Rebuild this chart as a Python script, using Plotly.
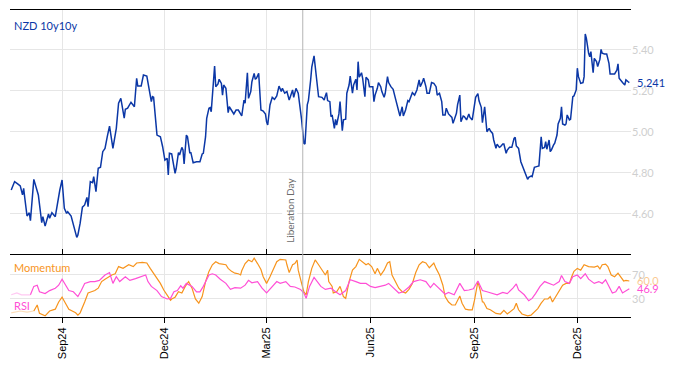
import plotly.graph_objects as go

# ---------------- data ----------------
nzd_dates = [
    "2024-07-18","2024-07-21","2024-07-24","2024-07-26","2024-07-28","2024-07-29","2024-07-30",
    "2024-08-01","2024-08-03","2024-08-04","2024-08-07","2024-08-11","2024-08-14","2024-08-15",
    "2024-08-17","2024-08-20","2024-08-21","2024-08-23","2024-08-26","2024-08-28","2024-08-30",
    "2024-09-01","2024-09-03","2024-09-05","2024-09-06","2024-09-09","2024-09-11","2024-09-14",
    "2024-09-15","2024-09-17","2024-09-19","2024-09-21","2024-09-23","2024-09-24","2024-09-26",
    "2024-09-28","2024-09-29","2024-10-01","2024-10-03","2024-10-05","2024-10-07","2024-10-09",
    "2024-10-11","2024-10-13","2024-10-16","2024-10-18","2024-10-19","2024-10-21","2024-10-23",
    "2024-10-24","2024-10-26","2024-10-27","2024-10-29","2024-11-01","2024-11-04","2024-11-06",
    "2024-11-07","2024-11-10","2024-11-12","2024-11-15","2024-11-16","2024-11-19","2024-11-20",
    "2024-11-21","2024-11-24","2024-11-27","2024-11-29","2024-12-01","2024-12-03","2024-12-04",
    "2024-12-05","2024-12-07","2024-12-10","2024-12-11","2024-12-13","2024-12-14","2024-12-16",
    "2024-12-17","2024-12-18","2024-12-20","2024-12-21","2024-12-23","2024-12-24","2024-12-26",
    "2024-12-29","2025-01-01","2025-01-03","2025-01-04","2025-01-06","2025-01-07","2025-01-09",
    "2025-01-10","2025-01-11","2025-01-12","2025-01-14","2025-01-15","2025-01-17","2025-01-18",
    "2025-01-20","2025-01-21","2025-01-22","2025-01-24","2025-01-25","2025-01-26","2025-01-27",
    "2025-01-29","2025-01-31","2025-02-02","2025-02-04","2025-02-07","2025-02-09","2025-02-10",
    "2025-02-12","2025-02-13","2025-02-15","2025-02-16","2025-02-18","2025-02-19","2025-02-20",
    "2025-02-22","2025-02-23","2025-02-24","2025-02-26","2025-02-28","2025-03-01","2025-03-02",
    "2025-03-04","2025-03-06","2025-03-08","2025-03-10","2025-03-12","2025-03-14","2025-03-15",
    "2025-03-17","2025-03-19","2025-03-21","2025-03-22","2025-03-24","2025-03-25","2025-03-27",
    "2025-03-29","2025-03-31","2025-04-01","2025-04-03","2025-04-04","2025-04-06","2025-04-07",
    "2025-04-09","2025-04-10","2025-04-12","2025-04-13","2025-04-15","2025-04-16","2025-04-19",
    "2025-04-21","2025-04-22","2025-04-23","2025-04-24","2025-04-26","2025-04-27","2025-04-28",
    "2025-04-30","2025-05-01","2025-05-02","2025-05-04","2025-05-05","2025-05-07","2025-05-08",
    "2025-05-10","2025-05-11","2025-05-13","2025-05-14","2025-05-16","2025-05-17","2025-05-19",
    "2025-05-20","2025-05-21","2025-05-22","2025-05-24","2025-05-25","2025-05-27","2025-05-28",
    "2025-05-30","2025-05-31","2025-06-03","2025-06-04","2025-06-05","2025-06-07","2025-06-08",
    "2025-06-10","2025-06-11","2025-06-13","2025-06-14","2025-06-16","2025-06-17","2025-06-19",
    "2025-06-21","2025-06-23","2025-06-25","2025-06-27","2025-06-29","2025-06-30","2025-07-02",
    "2025-07-04","2025-07-05","2025-07-06","2025-07-08","2025-07-10","2025-07-12","2025-07-14",
    "2025-07-15","2025-07-17","2025-07-18","2025-07-20","2025-07-21","2025-07-23","2025-07-25",
    "2025-07-27","2025-07-29","2025-07-30","2025-08-01","2025-08-03","2025-08-04","2025-08-06",
    "2025-08-07","2025-08-09","2025-08-10","2025-08-12","2025-08-13","2025-08-15","2025-08-16",
    "2025-08-17","2025-08-19","2025-08-20","2025-08-22","2025-08-23","2025-08-25","2025-08-27",
    "2025-08-28","2025-08-30","2025-09-01","2025-09-02","2025-09-04","2025-09-05","2025-09-07",
    "2025-09-08","2025-09-10","2025-09-12","2025-09-14","2025-09-15","2025-09-17","2025-09-18",
    "2025-09-20","2025-09-21","2025-09-23","2025-09-24","2025-09-26","2025-09-27","2025-09-29",
    "2025-09-30","2025-10-02","2025-10-04","2025-10-06","2025-10-07","2025-10-08","2025-10-10",
    "2025-10-12","2025-10-13","2025-10-15","2025-10-16","2025-10-18","2025-10-19","2025-10-21",
    "2025-10-22","2025-10-24","2025-10-26","2025-10-28","2025-10-30","2025-10-31","2025-11-02",
    "2025-11-03","2025-11-04","2025-11-06","2025-11-07","2025-11-08","2025-11-10","2025-11-11",
    "2025-11-13","2025-11-14","2025-11-16","2025-11-17","2025-11-18","2025-11-20","2025-11-21",
    "2025-11-22","2025-11-24","2025-11-25","2025-11-27","2025-11-28","2025-11-30","2025-12-01",
    "2025-12-02","2025-12-04","2025-12-06","2025-12-07","2025-12-08","2025-12-09","2025-12-11",
    "2025-12-12","2025-12-13","2025-12-15","2025-12-16","2025-12-18","2025-12-19","2025-12-21",
    "2025-12-22","2025-12-23","2025-12-25","2025-12-27","2025-12-29","2025-12-30","2026-01-01",
    "2026-01-03","2026-01-05","2026-01-06","2026-01-07","2026-01-09","2026-01-10","2026-01-12",
    "2026-01-13","2026-01-15","2026-01-16",
]
nzd_values = [
    4.717,4.758,4.746,4.737,4.693,4.725,4.678,
    4.590,4.606,4.567,4.769,4.693,4.558,4.587,
    4.541,4.600,4.579,4.606,4.587,4.660,4.717,
    4.766,4.628,4.603,4.611,4.590,4.546,4.486,
    4.498,4.555,4.633,4.644,4.681,4.636,4.758,
    4.753,4.782,4.709,4.823,4.828,4.904,4.920,
    4.977,5.029,4.920,5.001,5.018,5.140,5.164,
    5.132,5.067,5.111,5.116,5.145,5.123,5.262,
    5.224,5.224,5.278,5.273,5.245,5.148,5.172,
    5.169,4.985,4.977,4.928,4.863,4.872,4.790,
    4.896,4.893,4.798,4.823,4.899,4.888,4.925,
    4.912,4.844,4.985,4.977,4.899,4.899,4.850,
    4.855,4.855,4.893,4.896,4.977,5.067,5.116,
    5.119,5.099,5.172,5.322,5.221,5.234,5.257,
    5.237,5.180,5.229,5.213,5.156,5.094,5.123,
    5.107,5.088,5.107,5.107,5.078,5.156,5.140,
    5.289,5.164,5.197,5.245,5.286,5.257,5.262,
    5.286,5.189,5.107,5.102,5.088,5.050,5.034,
    5.132,5.169,5.159,5.176,5.224,5.197,5.213,
    5.189,5.197,5.156,5.172,5.205,5.169,5.213,
    5.189,5.116,5.059,4.945,4.941,5.132,5.153,
    5.254,5.316,5.371,5.319,5.237,5.172,5.169,
    5.156,5.176,5.192,5.153,5.148,5.075,5.083,
    5.018,5.062,5.034,5.088,5.148,5.006,5.059,
    5.062,5.189,5.229,5.273,5.189,5.229,5.257,
    5.205,5.343,5.267,5.289,5.262,5.172,5.267,
    5.254,5.221,5.221,5.148,5.180,5.213,5.241,
    5.221,5.197,5.169,5.189,5.270,5.241,5.221,
    5.208,5.164,5.123,5.078,5.123,5.078,5.107,
    5.153,5.148,5.164,5.192,5.180,5.205,5.254,
    5.221,5.245,5.262,5.221,5.189,5.189,5.241,
    5.237,5.221,5.180,5.189,5.148,5.083,5.083,
    5.116,5.088,5.083,5.071,5.042,5.075,5.091,
    5.132,5.180,5.050,5.078,5.075,5.059,5.088,
    5.071,5.059,5.120,5.169,5.187,5.152,5.120,
    5.045,5.123,5.001,5.018,5.006,4.993,4.961,
    4.920,4.941,4.925,4.928,4.941,4.941,4.896,
    4.912,4.925,4.925,4.969,4.974,4.932,4.920,
    4.855,4.839,4.806,4.790,4.769,4.779,4.785,
    4.782,4.828,4.831,4.834,4.977,4.920,4.925,
    4.953,4.916,4.961,4.904,4.912,4.937,4.945,
    4.985,5.039,5.067,5.123,5.039,5.034,5.039,
    5.083,5.059,5.062,5.172,5.176,5.205,5.311,
    5.270,5.237,5.241,5.270,5.478,5.457,5.384,
    5.367,5.392,5.289,5.359,5.343,5.319,5.355,
    5.403,5.384,5.380,5.380,5.335,5.283,5.283,
    5.283,5.302,5.332,5.262,5.245,5.241,5.229,
    5.254,5.245,5.241,
]

# warm-up (faded) part of the indicators
mom_warm_dates = ["2024-07-18","2024-07-26","2024-08-01","2024-08-07"]
mom_warm_values = [7, 10, 8, 10]
rsi_warm_dates = ["2024-07-18","2024-07-23","2024-07-27","2024-08-04"]
rsi_warm_values = [37, 40, 37, 37]

mom_dates = [
    "2024-08-07","2024-08-10","2024-08-12","2024-08-17","2024-08-21","2024-08-26","2024-08-29",
    "2024-09-01","2024-09-04","2024-09-07","2024-09-10","2024-09-13","2024-09-15","2024-09-17",
    "2024-09-21","2024-09-24","2024-09-27","2024-09-30","2024-10-03","2024-10-06","2024-10-09",
    "2024-10-12","2024-10-15","2024-10-18","2024-10-21","2024-10-25","2024-10-30","2024-11-03",
    "2024-11-06","2024-11-11","2024-11-15","2024-11-18","2024-11-21","2024-11-24","2024-11-27",
    "2024-11-30","2024-12-03","2024-12-06","2024-12-07","2024-12-10","2024-12-13","2024-12-16",
    "2024-12-19","2024-12-22","2024-12-25","2024-12-28","2024-12-31","2025-01-03","2025-01-06",
    "2025-01-09","2025-01-12","2025-01-15","2025-01-18","2025-01-21","2025-01-24","2025-01-26",
    "2025-01-29","2025-02-01","2025-02-04","2025-02-06","2025-02-07","2025-02-10","2025-02-13",
    "2025-02-16","2025-02-18","2025-02-21","2025-02-24","2025-02-26","2025-03-01","2025-03-04",
    "2025-03-07","2025-03-10","2025-03-13","2025-03-18","2025-03-19","2025-03-21","2025-03-24",
    "2025-03-26","2025-03-28","2025-03-29","2025-04-01","2025-04-03","2025-04-05","2025-04-07",
    "2025-04-10","2025-04-13","2025-04-16","2025-04-19","2025-04-22","2025-04-24","2025-04-25",
    "2025-04-28","2025-04-29","2025-05-02","2025-05-05","2025-05-07","2025-05-08","2025-05-10",
    "2025-05-13","2025-05-16","2025-05-19","2025-05-22","2025-05-25","2025-05-28","2025-05-30",
    "2025-06-02","2025-06-05","2025-06-07","2025-06-10","2025-06-13","2025-06-16","2025-06-18",
    "2025-06-20","2025-06-23","2025-06-26","2025-06-29","2025-07-02","2025-07-05","2025-07-08",
    "2025-07-11","2025-07-14","2025-07-17","2025-07-20","2025-07-23","2025-07-26","2025-07-27",
    "2025-07-29","2025-08-01","2025-08-04","2025-08-06","2025-08-09","2025-08-12","2025-08-15",
    "2025-08-17","2025-08-19","2025-08-21","2025-08-24","2025-08-27","2025-08-30","2025-09-01",
    "2025-09-04","2025-09-06","2025-09-08","2025-09-09","2025-09-12","2025-09-15","2025-09-20",
    "2025-09-24","2025-09-27","2025-09-30","2025-10-03","2025-10-06","2025-10-08","2025-10-10",
    "2025-10-13","2025-10-18","2025-10-21","2025-10-24","2025-10-27","2025-10-30","2025-11-02",
    "2025-11-05","2025-11-07","2025-11-09","2025-11-12","2025-11-15","2025-11-18","2025-11-21",
    "2025-11-24","2025-11-26","2025-11-28","2025-12-01","2025-12-04","2025-12-07","2025-12-11",
    "2025-12-16","2025-12-19","2025-12-21","2025-12-23","2025-12-26","2025-12-28","2025-12-31",
    "2026-01-03","2026-01-06","2026-01-09","2026-01-11","2026-01-13","2026-01-16",
]
mom_values = [
    10,20,6,2,10,13,25,
    33,23,13,10,7,3,7,
    25,40,42,44,48,59,63,
    67,70,72,84,81,87,84,
    90,91,90,81,73,64,56,
    45,37,28,30,33,42,40,
    51,59,48,30,23,34,59,
    76,87,92,89,88,87,81,
    76,73,72,70,77,89,95,
    92,98,89,79,67,56,67,
    81,92,96,95,87,74,87,
    89,95,78,56,42,37,59,
    81,95,87,78,70,78,59,
    51,40,42,51,40,34,31,
    59,78,84,96,92,87,89,
    84,72,81,70,78,90,92,
    70,59,48,42,40,46,56,
    74,87,92,90,82,89,90,
    81,70,53,34,25,20,20,
    28,35,23,13,12,12,28,
    59,45,25,25,14,12,6,
    5,11,5,9,14,23,12,
    5,2,3,9,14,23,30,
    30,34,25,34,45,53,56,
    56,67,76,81,78,87,84,
    83,85,80,87,88,84,70,
    67,73,64,60,61,60.0,
]

rsi_dates = [
    "2024-08-04","2024-08-07","2024-08-10","2024-08-12","2024-08-17","2024-08-21","2024-08-26",
    "2024-08-29","2024-09-01","2024-09-04","2024-09-07","2024-09-11","2024-09-15","2024-09-18",
    "2024-09-21","2024-09-26","2024-09-30","2024-10-04","2024-10-09","2024-10-13","2024-10-16",
    "2024-10-19","2024-10-22","2024-10-27","2024-10-31","2024-11-05","2024-11-09","2024-11-14",
    "2024-11-16","2024-11-19","2024-11-24","2024-11-28","2024-12-03","2024-12-06","2024-12-09",
    "2024-12-12","2024-12-15","2024-12-17","2024-12-20","2024-12-25","2024-12-29","2025-01-01",
    "2025-01-04","2025-01-09","2025-01-12","2025-01-15","2025-01-19","2025-01-24","2025-01-28",
    "2025-02-01","2025-02-06","2025-02-10","2025-02-13","2025-02-16","2025-02-21","2025-02-25",
    "2025-03-01","2025-03-06","2025-03-10","2025-03-13","2025-03-18","2025-03-22","2025-03-26",
    "2025-03-31","2025-04-03","2025-04-05","2025-04-08","2025-04-12","2025-04-15","2025-04-18",
    "2025-04-22","2025-04-27","2025-05-01","2025-05-05","2025-05-10","2025-05-14","2025-05-19",
    "2025-05-23","2025-05-28","2025-06-01","2025-06-05","2025-06-10","2025-06-14","2025-06-17",
    "2025-06-22","2025-06-26","2025-06-30","2025-07-05","2025-07-09","2025-07-15","2025-07-20",
    "2025-07-24","2025-07-27","2025-07-30","2025-08-04","2025-08-06","2025-08-09","2025-08-14",
    "2025-08-19","2025-08-23","2025-08-27","2025-08-31","2025-09-04","2025-09-08","2025-09-12",
    "2025-09-17","2025-09-21","2025-09-26","2025-09-30","2025-10-05","2025-10-08","2025-10-10",
    "2025-10-15","2025-10-19","2025-10-22","2025-10-25","2025-10-29","2025-11-02","2025-11-06",
    "2025-11-10","2025-11-15","2025-11-17","2025-11-20","2025-11-24","2025-11-27","2025-12-01",
    "2025-12-04","2025-12-08","2025-12-11","2025-12-16","2025-12-20","2025-12-23","2025-12-26",
    "2025-12-29","2026-01-01","2026-01-04","2026-01-07","2026-01-10","2026-01-13","2026-01-16",
]
rsi_values = [
    37,51,53,42,39,44,48,
    53,63,53,44,42,34,44,
    56,59,59,61,70,74,56,
    67,59,67,61,64,67,70,
    59,51,44,34,30,31,42,
    44,52,48,56,51,42,42,
    51,70,72,70,63,56,46,
    49,48,53,61,57,59,48,
    40,51,59,56,59,51,50,
    46,40,31,51,66,59,51,
    46,48,42,37,44,62,59,
    56,56,51,49,51,53,56,
    48,40,42,50,59,62,59,
    49,56,51,42,38,41,37,
    56,44,45,47,60,44,42,
    39,37,41,39,48,55,45,
    37,27,31,39,51,59,56,
    53,59,69,59,56,67,70,
    64,72,63,56,59,56,62,
    51,40,42,51,40,44,46.9,
]

x_tick_vals = ["2024-09-01","2024-12-01","2025-03-01","2025-06-01","2025-09-01","2025-12-01"]
x_tick_text = ["Sep24","Dec24","Mar25","Jun25","Sep25","Dec25"]
y1_ticks = [4.60, 4.80, 5.00, 5.20, 5.40]
y2_ticks = [30, 70]
event_date = "2025-04-02"
event_label = "Liberation Day"
series_name = "NZD 10y10y"

# ---------------- styles ----------------
BLUE = "#0b37a6"
ORANGE = "#f7941d"
MAGENTA = "#ff4fd6"
GRID = "#e6e6e6"
TICKGRAY = "#cfcfcf"
FONT = "Lato, 'Liberation Sans', sans-serif"
x_range = ["2024-07-16 22:00", "2026-01-17 12:00"]
SPLIT = 0.202
PLOT_H = 307  # plot-area height in px (366 - 10 - 49)

fig = go.Figure()

fig.add_trace(go.Scatter(x=nzd_dates, y=nzd_values, mode="lines", xaxis="x", yaxis="y",
                         line=dict(color=BLUE, width=1.5), showlegend=False))
fig.add_trace(go.Scatter(x=mom_warm_dates + mom_dates[:1], y=mom_warm_values + mom_values[:1],
                         mode="lines", xaxis="x2", yaxis="y2",
                         line=dict(color=ORANGE, width=1.2), opacity=0.3, showlegend=False))
fig.add_trace(go.Scatter(x=rsi_warm_dates + rsi_dates[:1], y=rsi_warm_values + rsi_values[:1],
                         mode="lines", xaxis="x2", yaxis="y2",
                         line=dict(color=MAGENTA, width=1.2), opacity=0.3, showlegend=False))
fig.add_trace(go.Scatter(x=mom_dates, y=mom_values, mode="lines", xaxis="x2", yaxis="y2",
                         line=dict(color=ORANGE, width=1.2), showlegend=False))
fig.add_trace(go.Scatter(x=rsi_dates, y=rsi_values, mode="lines", xaxis="x2", yaxis="y2",
                         line=dict(color=MAGENTA, width=1.2), showlegend=False))

common_x = dict(type="date", range=x_range, tickvals=x_tick_vals, ticktext=x_tick_text,
                showgrid=True, gridcolor=GRID, gridwidth=1, zeroline=False, domain=[0, 1])

fig.update_layout(
    width=674, height=366,
    margin=dict(l=10, r=43, t=10, b=49, autoexpand=False),
    paper_bgcolor="white", plot_bgcolor="white",
    font=dict(family=FONT, size=11, color="#000"),
    showlegend=False,
    xaxis=dict(common_x, anchor="y", showticklabels=False, showline=False, ticks=""),
    xaxis2=dict(common_x, anchor="y2", matches="x", showticklabels=True, tickangle=-90,
                ticks="outside", ticklen=5, tickcolor="black", showline=True,
                linecolor="black", linewidth=1, mirror="ticks",
                tickfont=dict(family="'Liberation Sans', Arial, sans-serif", size=11,
                              color="black")),
    yaxis=dict(domain=[SPLIT, 1], anchor="x", side="right", range=[4.40, 5.595],
               tickvals=y1_ticks, tickformat=".2f", tickfont=dict(color=TICKGRAY, size=11),
               showgrid=True, gridcolor=GRID, zeroline=False, showline=False, ticks=""),
    yaxis2=dict(domain=[0, SPLIT], anchor="x2", side="right", range=[0, 103.3],
                tickvals=y2_ticks, tickfont=dict(color=TICKGRAY, size=11),
                showgrid=True, gridcolor=GRID, zeroline=False, showline=False, ticks=""),
)

# top frame line of the upper panel (offset half a pixel so it renders crisp)
top_y = 1 + 0.5 / PLOT_H
fig.add_shape(type="line", xref="paper", yref="paper", x0=0, x1=1, y0=top_y, y1=top_y,
              line=dict(color="black", width=1), layer="above")

fig.add_shape(type="line", xref="x", yref="paper", x0=event_date, x1=event_date,
              y0=0, y1=1, line=dict(color="#b5b5b5", width=1))

fig.add_annotation(x=event_date, xref="x", y=0.236, yref="paper", text=event_label,
                   textangle=-90, showarrow=False, xanchor="right", yanchor="bottom",
                   xshift=-5, font=dict(size=10, color="#6b6b6b"), bgcolor="white")

fig.add_annotation(x=0, xref="paper", y=0.951, yref="paper", text=series_name,
                   showarrow=False, xanchor="left", yanchor="middle", xshift=2,
                   font=dict(size=11, color=BLUE))
fig.add_annotation(x=0, xref="paper", y=0.160, yref="paper", text="Momentum",
                   showarrow=False, xanchor="left", yanchor="middle", xshift=2,
                   font=dict(size=11, color=ORANGE))
fig.add_annotation(x=0, xref="paper", y=0.036, yref="paper", text="RSI",
                   showarrow=False, xanchor="left", yanchor="middle", xshift=2,
                   font=dict(size=11, color=MAGENTA))

fig.add_annotation(x=1, xref="paper", y=nzd_values[-1], yref="y", text=f"{nzd_values[-1]:.3f}",
                   showarrow=False, xanchor="left", yanchor="middle", xshift=4,
                   font=dict(size=11, color=BLUE))
fig.add_annotation(x=1, xref="paper", y=mom_values[-1], yref="y2", text=f"{mom_values[-1]:.1f}",
                   showarrow=False, xanchor="left", yanchor="middle", xshift=4,
                   font=dict(size=11, color=ORANGE), opacity=0.5)
fig.add_annotation(x=1, xref="paper", y=rsi_values[-1], yref="y2", text=f"{rsi_values[-1]:.1f}",
                   showarrow=False, xanchor="left", yanchor="middle", xshift=4,
                   font=dict(size=11, color=MAGENTA))

fig.write_html("out.html", config={"displayModeBar": False},
               post_script="document.body.style.margin='0px';")
